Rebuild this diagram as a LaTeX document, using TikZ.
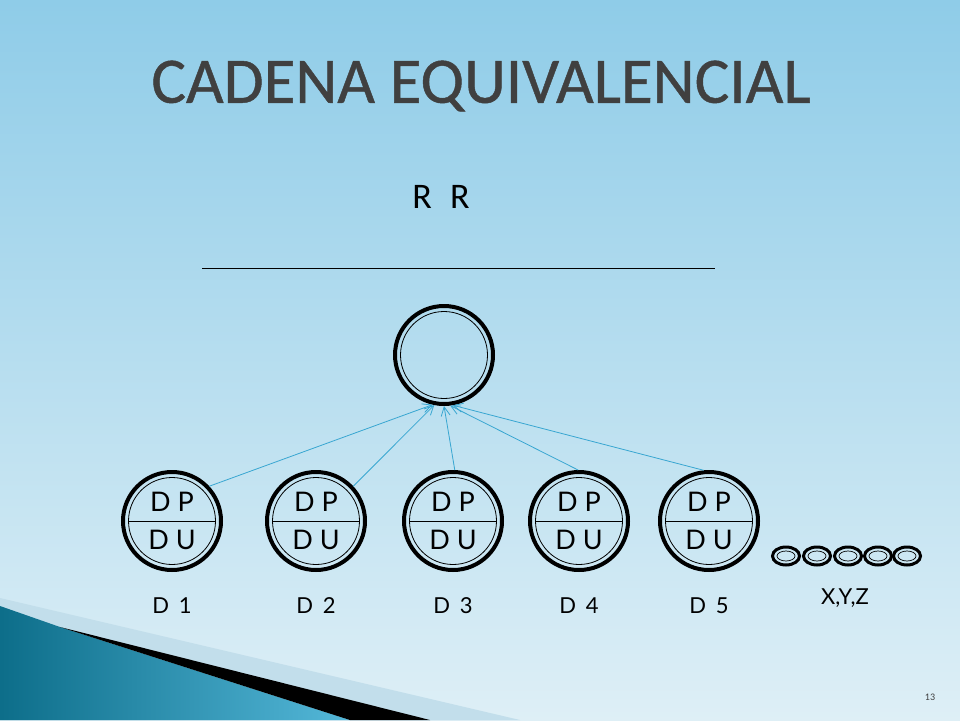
\documentclass[tikz,border=0pt]{standalone}
\usepackage{fontspec}
\setmainfont{Carlito}
\newfontfamily\bodyfont{Lato}
\newfontfamily\titlefont[FakeBold=0.7]{Carlito}
\usetikzlibrary{arrows.meta,shapes.geometric}
\definecolor{skytopcolor}{rgb}{0.560000, 0.800000, 0.910000}
\definecolor{skybotcolor}{rgb}{0.870000, 0.937000, 0.965000}
\definecolor{linkcolor}{rgb}{0.220000, 0.650000, 0.820000}
\definecolor{titlecolor}{rgb}{0.250000, 0.250000, 0.250000}
\definecolor{tealdarkcolor}{rgb}{0.050000, 0.430000, 0.540000}
\definecolor{teallightcolor}{rgb}{0.330000, 0.720000, 0.850000}
\definecolor{stripcolor}{rgb}{0.760000, 0.870000, 0.920000}
\tikzset{
  ring/.style={circle,draw=black,line width=4pt,minimum size=98pt,inner sep=0pt},
  ringin/.style={circle,draw=black,line width=0.8pt,minimum size=87pt,inner sep=0pt},
  bead/.style={ellipse,draw=black,line width=3pt,minimum width=27pt,minimum height=18pt,inner sep=0pt},
  beadin/.style={ellipse,draw=black,line width=0.7pt,minimum width=18pt,minimum height=10pt,inner sep=0pt},
  link/.style={draw=linkcolor,line width=0.8pt,-{Straight Barb[length=9pt,width=9pt]}},
  cell/.style={font=\bodyfont\fontsize{27}{30}\selectfont,inner sep=0pt},
  tag/.style={font=\bodyfont\fontsize{22}{26}\selectfont,inner sep=0pt},
  heading/.style={font=\titlefont\fontsize{65}{72}\selectfont,inner sep=0pt}
}
\begin{document}
\begin{tikzpicture}[x=1pt,y=-1pt]
\useasboundingbox (0,0) rectangle (960,720);
\shade[top color=skytopcolor,bottom color=skybotcolor] (0,0) rectangle (960,720);
\fill[stripcolor] (0,598)--(520,720)--(0,720)--cycle;
\shade[left color=tealdarkcolor,right color=teallightcolor] (0,606)--(60,627)--(350,720)--(0,720)--cycle;
\fill[black] (60,627)--(430,720)--(350,720)--cycle;
\node[heading,text=titlecolor] (title) at (481,86) {CADENA EQUIVALENCIAL};
\node[font=\fontsize{36}{40}\selectfont] (rr) at (441,197) {R\hspace{0.5em}R};
\coordinate (barl) at (202,268);
\coordinate (barr) at (715,268);
\draw[line width=0.8pt] (barl)--(barr);
\node[ring] (top) at (444,355) {};
\node[ringin] (topin) at (444,355) {};
\foreach \n/\x in {1/172,2/316,3/453,4/579,5/709}{
  \node[ring] (d\n) at (\x,521) {};
  \node[ringin] (d\n in) at (\x,521) {};
  \draw[line width=0.8pt] (d\n in.west)--(d\n in.east);
  \node[cell] (dp\n) at (\x,502) {D P};
  \node[cell] (du\n) at (\x,540) {D U};
  \node[tag] (lab\n) at (\x,606) {D\hspace{0.45em}\n};
}
\draw[link] (d1.43)--(top.257);
\draw[link] (d2.43)--(top.259);
\draw[link] (d3.88)--(top.270);
\draw[link] (d4.91)--(top.277);
\draw[link] (d5.96)--(top.280);
\foreach \n/\x in {1/786,2/817,3/848,4/878,5/907}{
  \node[bead] (b\n) at (\x,556) {};
  \node[beadin] (b\n in) at (\x,556) {};
}
\node[tag] (xyz) at (845,598) {X,Y,Z};
\node[font=\fontsize{10}{12}\selectfont,text=titlecolor] (page) at (930,697) {13};
\end{tikzpicture}
\end{document}
